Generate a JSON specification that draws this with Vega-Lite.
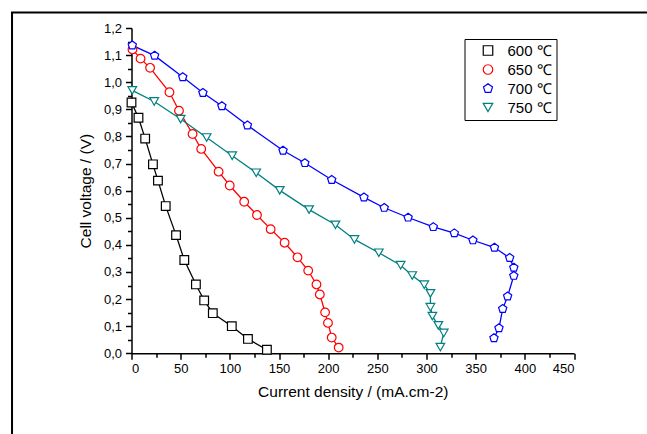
{
  "$schema": "https://vega.github.io/schema/vega-lite/v6.json",
  "width": 442.5,
  "height": 325.3,
  "autosize": {"type": "none"},
  "padding": {"left": 131.5, "top": 28, "right": 73, "bottom": 80.7},
  "background": "white",
  "config": {
    "view": {"stroke": null},
    "font": "Liberation Sans",
    "axis": {
      "grid": false,
      "domainColor": "black",
      "domainWidth": 1.5,
      "tickColor": "black",
      "tickWidth": 1.5,
      "labelColor": "black",
      "titleColor": "black",
      "labelFont": "Liberation Sans",
      "titleFont": "Liberation Sans",
      "labelFontSize": 13,
      "titleFontSize": 15.5,
      "titleFontWeight": "normal",
      "labelOverlap": false
    },
    "axisX": {
      "labelPadding": 3,
      "titlePadding": 9
    },
    "axisY": {
      "labelPadding": 4,
      "titlePadding": 10
    },
    "legend": {
      "labelFont": "Liberation Sans",
      "labelFontSize": 15,
      "labelColor": "black"
    }
  },
  "datasets": {
    "curves": [
      {"T": "600 ℃", "i": 1, "j": 0.0, "V": 0.925},
      {"T": "600 ℃", "i": 2, "j": 7.1, "V": 0.869},
      {"T": "600 ℃", "i": 3, "j": 13.9, "V": 0.792},
      {"T": "600 ℃", "i": 4, "j": 21.8, "V": 0.697},
      {"T": "600 ℃", "i": 5, "j": 26.9, "V": 0.637},
      {"T": "600 ℃", "i": 6, "j": 34.8, "V": 0.543},
      {"T": "600 ℃", "i": 7, "j": 45.3, "V": 0.436},
      {"T": "600 ℃", "i": 8, "j": 53.7, "V": 0.344},
      {"T": "600 ℃", "i": 9, "j": 65.5, "V": 0.254},
      {"T": "600 ℃", "i": 10, "j": 73.9, "V": 0.195},
      {"T": "600 ℃", "i": 11, "j": 82.7, "V": 0.148},
      {"T": "600 ℃", "i": 12, "j": 102.0, "V": 0.100},
      {"T": "600 ℃", "i": 13, "j": 118.4, "V": 0.053},
      {"T": "600 ℃", "i": 14, "j": 137.7, "V": 0.013},
      {"T": "650 ℃", "i": 1, "j": 1.0, "V": 1.121},
      {"T": "650 ℃", "i": 2, "j": 9.2, "V": 1.087},
      {"T": "650 ℃", "i": 3, "j": 18.9, "V": 1.053},
      {"T": "650 ℃", "i": 4, "j": 38.6, "V": 0.963},
      {"T": "650 ℃", "i": 5, "j": 48.3, "V": 0.895},
      {"T": "650 ℃", "i": 6, "j": 62.1, "V": 0.809},
      {"T": "650 ℃", "i": 7, "j": 70.9, "V": 0.754},
      {"T": "650 ℃", "i": 8, "j": 88.6, "V": 0.670},
      {"T": "650 ℃", "i": 9, "j": 99.9, "V": 0.619},
      {"T": "650 ℃", "i": 10, "j": 114.6, "V": 0.559},
      {"T": "650 ℃", "i": 11, "j": 127.6, "V": 0.510},
      {"T": "650 ℃", "i": 12, "j": 141.5, "V": 0.458},
      {"T": "650 ℃", "i": 13, "j": 155.7, "V": 0.408},
      {"T": "650 ℃", "i": 14, "j": 168.8, "V": 0.354},
      {"T": "650 ℃", "i": 15, "j": 179.7, "V": 0.305},
      {"T": "650 ℃", "i": 16, "j": 188.1, "V": 0.254},
      {"T": "650 ℃", "i": 17, "j": 191.5, "V": 0.217},
      {"T": "650 ℃", "i": 18, "j": 196.9, "V": 0.151},
      {"T": "650 ℃", "i": 19, "j": 199.8, "V": 0.112},
      {"T": "650 ℃", "i": 20, "j": 203.6, "V": 0.058},
      {"T": "650 ℃", "i": 21, "j": 210.7, "V": 0.021},
      {"T": "700 ℃", "i": 1, "j": 0.8, "V": 1.136},
      {"T": "700 ℃", "i": 2, "j": 23.5, "V": 1.098},
      {"T": "700 ℃", "i": 3, "j": 52.1, "V": 1.019},
      {"T": "700 ℃", "i": 4, "j": 72.6, "V": 0.961},
      {"T": "700 ℃", "i": 5, "j": 91.9, "V": 0.912},
      {"T": "700 ℃", "i": 6, "j": 117.9, "V": 0.841},
      {"T": "700 ℃", "i": 7, "j": 154.1, "V": 0.748},
      {"T": "700 ℃", "i": 8, "j": 176.3, "V": 0.702},
      {"T": "700 ℃", "i": 9, "j": 203.6, "V": 0.640},
      {"T": "700 ℃", "i": 10, "j": 236.4, "V": 0.575},
      {"T": "700 ℃", "i": 11, "j": 257.0, "V": 0.537},
      {"T": "700 ℃", "i": 12, "j": 281.3, "V": 0.501},
      {"T": "700 ℃", "i": 13, "j": 306.9, "V": 0.466},
      {"T": "700 ℃", "i": 14, "j": 328.3, "V": 0.443},
      {"T": "700 ℃", "i": 15, "j": 347.2, "V": 0.417},
      {"T": "700 ℃", "i": 16, "j": 369.1, "V": 0.390},
      {"T": "700 ℃", "i": 17, "j": 384.6, "V": 0.352},
      {"T": "700 ℃", "i": 18, "j": 388.8, "V": 0.316},
      {"T": "700 ℃", "i": 19, "j": 388.8, "V": 0.286},
      {"T": "700 ℃", "i": 20, "j": 382.5, "V": 0.210},
      {"T": "700 ℃", "i": 21, "j": 377.5, "V": 0.164},
      {"T": "700 ℃", "i": 22, "j": 373.7, "V": 0.093},
      {"T": "700 ℃", "i": 23, "j": 368.6, "V": 0.056},
      {"T": "750 ℃", "i": 1, "j": 0.8, "V": 0.970},
      {"T": "750 ℃", "i": 2, "j": 23.1, "V": 0.929},
      {"T": "750 ℃", "i": 3, "j": 50.0, "V": 0.864},
      {"T": "750 ℃", "i": 4, "j": 76.4, "V": 0.796},
      {"T": "750 ℃", "i": 5, "j": 102.4, "V": 0.729},
      {"T": "750 ℃", "i": 6, "j": 126.8, "V": 0.666},
      {"T": "750 ℃", "i": 7, "j": 150.8, "V": 0.601},
      {"T": "750 ℃", "i": 8, "j": 180.6, "V": 0.530},
      {"T": "750 ℃", "i": 9, "j": 207.4, "V": 0.474},
      {"T": "750 ℃", "i": 10, "j": 226.7, "V": 0.420},
      {"T": "750 ℃", "i": 11, "j": 251.5, "V": 0.371},
      {"T": "750 ℃", "i": 12, "j": 273.7, "V": 0.325},
      {"T": "750 ℃", "i": 13, "j": 285.5, "V": 0.287},
      {"T": "750 ℃", "i": 14, "j": 297.7, "V": 0.253},
      {"T": "750 ℃", "i": 15, "j": 304.0, "V": 0.221},
      {"T": "750 ℃", "i": 16, "j": 304.0, "V": 0.170},
      {"T": "750 ℃", "i": 17, "j": 306.0, "V": 0.137},
      {"T": "750 ℃", "i": 18, "j": 312.0, "V": 0.103},
      {"T": "750 ℃", "i": 19, "j": 317.5, "V": 0.075},
      {"T": "750 ℃", "i": 20, "j": 314.1, "V": 0.023}
    ]
  },
  "layer": [
    {
      "data": {"name": "curves"},
      "mark": {"type": "line", "strokeWidth": 1.3},
      "encoding": {
        "x": {
          "field": "j", "type": "quantitative",
          "scale": {"domain": [0, 450], "nice": false, "zero": false},
          "axis": {
            "title": "Current density / (mA.cm-2)",
            "values": [0, 25, 50, 75, 100, 125, 150, 175, 200, 225, 250, 275, 300, 325, 350, 375, 400, 425, 450],
            "labelExpr": "datum.value % 50 == 0 ? format(datum.value, 'd') : ''",
            "tickSize": {"condition": {"test": "datum.value % 50 == 0", "value": 6}, "value": 4},
            "labelOverlap": false
          }
        },
        "y": {
          "field": "V", "type": "quantitative",
          "scale": {"domain": [0, 1.2], "nice": false, "zero": false},
          "axis": {
            "title": "Cell voltage / (V)",
            "values": [0, 0.05, 0.1, 0.15, 0.2, 0.25, 0.3, 0.35, 0.4, 0.45, 0.5, 0.55, 0.6, 0.65, 0.7, 0.75, 0.8, 0.85, 0.9, 0.95, 1.0, 1.05, 1.1, 1.15, 1.2],
            "labelExpr": "abs(datum.value * 10 - round(datum.value * 10)) < 0.01 ? replace(format(datum.value, '.1f'), '.', ',') : ''",
            "tickSize": {"condition": {"test": "abs(datum.value * 10 - round(datum.value * 10)) < 0.01", "value": 6}, "value": 4},
            "labelOverlap": false
          }
        },
        "color": {
          "field": "T", "type": "nominal",
          "scale": {"domain": ["600 ℃", "650 ℃", "700 ℃", "750 ℃"], "range": ["#000000", "#ff0000", "#0000ff", "#008080"]},
          "legend": {
            "title": null,
            "orient": "none",
            "legendX": 333,
            "legendY": 11,
            "strokeColor": "black",
            "padding": 4,
            "labelFontSize": 15,
            "symbolSize": 90,
            "symbolStrokeWidth": 1.2,
            "symbolFillColor": "white",
            "symbolOffset": 12,
            "labelOffset": 12,
            "rowPadding": 3
          }
        },
        "order": {"field": "i", "type": "quantitative"}
      }
    },
    {
      "data": {"name": "curves"},
      "mark": {"type": "point", "filled": false, "fill": "white", "size": 75, "strokeWidth": 1.2, "opacity": 1},
      "encoding": {
        "x": {
          "field": "j", "type": "quantitative",
          "axis": {
            "title": "Current density / (mA.cm-2)",
            "values": [0, 25, 50, 75, 100, 125, 150, 175, 200, 225, 250, 275, 300, 325, 350, 375, 400, 425, 450],
            "labelExpr": "datum.value % 50 == 0 ? format(datum.value, 'd') : ''",
            "tickSize": {"condition": {"test": "datum.value % 50 == 0", "value": 6}, "value": 4},
            "labelOverlap": false
          }
        },
        "y": {
          "field": "V", "type": "quantitative",
          "axis": {
            "title": "Cell voltage / (V)",
            "values": [0, 0.05, 0.1, 0.15, 0.2, 0.25, 0.3, 0.35, 0.4, 0.45, 0.5, 0.55, 0.6, 0.65, 0.7, 0.75, 0.8, 0.85, 0.9, 0.95, 1.0, 1.05, 1.1, 1.15, 1.2],
            "labelExpr": "abs(datum.value * 10 - round(datum.value * 10)) < 0.01 ? replace(format(datum.value, '.1f'), '.', ',') : ''",
            "tickSize": {"condition": {"test": "abs(datum.value * 10 - round(datum.value * 10)) < 0.01", "value": 6}, "value": 4},
            "labelOverlap": false
          }
        },
        "color": {"field": "T", "type": "nominal"},
        "shape": {
          "field": "T", "type": "nominal",
          "scale": {"domain": ["600 ℃", "650 ℃", "700 ℃", "750 ℃"], "range": ["square", "circle", "M0,-1L0.951,-0.309L0.588,0.809L-0.588,0.809L-0.951,-0.309Z", "triangle-down"]}
        }
      }
    },
    {
      "data": {"values": [{"frame": "outer"}]},
      "mark": {"type": "rect", "fill": null, "stroke": "black", "strokeWidth": 2},
      "encoding": {
        "x": {
          "datum": -121.5, "type": "quantitative",
          "axis": {
            "title": "Current density / (mA.cm-2)",
            "values": [0, 25, 50, 75, 100, 125, 150, 175, 200, 225, 250, 275, 300, 325, 350, 375, 400, 425, 450],
            "labelExpr": "datum.value % 50 == 0 ? format(datum.value, 'd') : ''",
            "tickSize": {"condition": {"test": "datum.value % 50 == 0", "value": 6}, "value": 4},
            "labelOverlap": false
          }
        },
        "x2": {"datum": 700},
        "y": {
          "datum": 1.257, "type": "quantitative",
          "axis": {
            "title": "Cell voltage / (V)",
            "values": [0, 0.05, 0.1, 0.15, 0.2, 0.25, 0.3, 0.35, 0.4, 0.45, 0.5, 0.55, 0.6, 0.65, 0.7, 0.75, 0.8, 0.85, 0.9, 0.95, 1.0, 1.05, 1.1, 1.15, 1.2],
            "labelExpr": "abs(datum.value * 10 - round(datum.value * 10)) < 0.01 ? replace(format(datum.value, '.1f'), '.', ',') : ''",
            "tickSize": {"condition": {"test": "abs(datum.value * 10 - round(datum.value * 10)) < 0.01", "value": 6}, "value": 4},
            "labelOverlap": false
          }
        },
        "y2": {"datum": -1}
      }
    }
  ]
}
